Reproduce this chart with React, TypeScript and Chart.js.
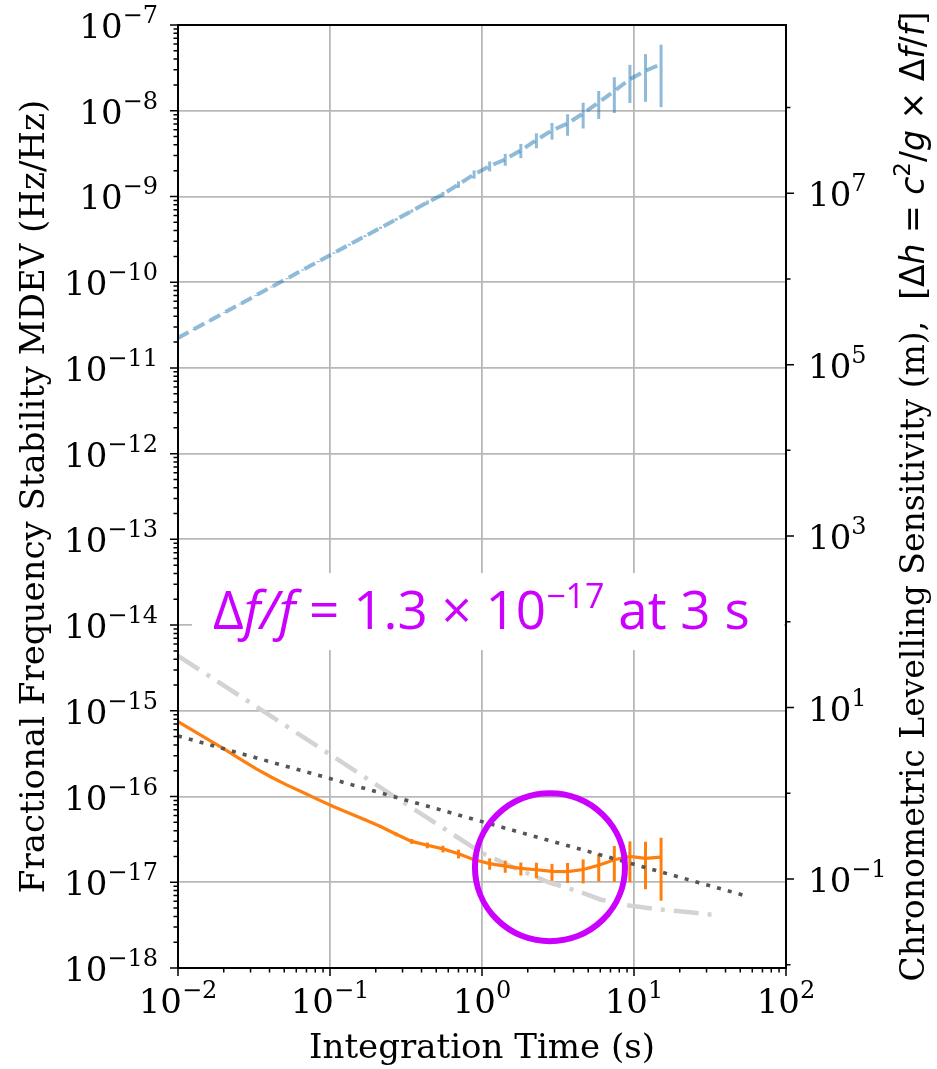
import React, { useEffect, useRef } from "react";
import { Chart, registerables } from "chart.js";

Chart.register(...registerables);

// ---- data ----
const TAU = [
  0.01, 0.01266, 0.01603, 0.0203, 0.0257, 0.03255, 0.04121, 0.05219, 0.06609, 0.08369,
  0.106, 0.1342, 0.1699, 0.2152, 0.2724, 0.345, 0.4369, 0.5532, 0.7005, 0.887,
  1.123, 1.422, 1.801, 2.28, 2.887, 3.656, 4.629, 5.861, 7.423, 9.399, 11.9, 15.07,
];
const BLUE_MDEV = [
  2.24e-11, 2.81e-11, 3.53e-11, 4.44e-11, 5.57e-11, 7.0e-11, 8.8e-11, 1.1e-10, 1.39e-10, 1.74e-10,
  2.19e-10, 2.74e-10, 3.44e-10, 4.31e-10, 5.4e-10, 6.76e-10, 8.5e-10, 1.06e-9, 1.38e-9, 1.81e-9,
  2.26e-9, 2.71e-9, 3.45e-9, 4.55e-9, 5.9e-9, 7.1e-9, 9.3e-9, 1.25e-8, 1.7e-8, 2.33e-8, 2.92e-8, 3.5e-8,
];
const BLUE_ERR = [
  2e-13, 3e-13, 4e-13, 5e-13, 7e-13, 9e-13, 1.2e-12, 1.6e-12, 2.2e-12, 3e-12,
  4e-12, 6e-12, 8e-12, 1.2e-11, 1.8e-11, 2.8e-11, 4.5e-11, 7e-11, 1.2e-10, 2e-10,
  3e-10, 4.3e-10, 6.5e-10, 9e-10, 1.3e-9, 2e-9, 3.1e-9, 4.5e-9, 7.6e-9, 1.1e-8, 1.65e-8, 2.4e-8,
];
const ORANGE_MDEV = [
  7.5e-16, 5.83e-16, 4.55e-16, 3.55e-16, 2.74e-16, 2.12e-16, 1.68e-16, 1.36e-16, 1.12e-16, 9.2e-17,
  7.6e-17, 6.4e-17, 5.35e-17, 4.47e-17, 3.63e-17, 3.0e-17, 2.7e-17, 2.45e-17, 2.15e-17, 1.83e-17,
  1.65e-17, 1.54e-17, 1.45e-17, 1.4e-17, 1.34e-17, 1.33e-17, 1.41e-17, 1.58e-17, 1.83e-17, 2.0e-17, 1.9e-17, 1.96e-17,
];
const ORANGE_ERR = [
  5e-18, 4e-18, 3.5e-18, 3e-18, 2.5e-18, 2e-18, 1.8e-18, 1.6e-18, 1.5e-18, 1.4e-18,
  1.4e-18, 1.5e-18, 1.6e-18, 1.7e-18, 1.8e-18, 2.0e-18, 2.1e-18, 2.2e-18, 2.5e-18, 2.6e-18,
  2.5e-18, 2.5e-18, 2.5e-18, 2.9e-18, 3.0e-18, 3.5e-18, 4.4e-18, 5.6e-18, 8.2e-18, 1.0e-17, 1.07e-17, 1.35e-17,
];
const MODEL_TAU = [0.01, 0.0333, 0.1, 0.25, 0.43, 1.0, 1.67, 2.75, 4.35, 6.0, 8.9, 13.5, 22.4, 36.3];
const MODEL_MDEV = [
  4.37e-15, 1.1e-15, 3.1e-16, 1.07e-16, 5.75e-17, 2.19e-17, 1.45e-17, 1.0e-17, 7.8e-18, 6.3e-18,
  5.4e-18, 4.9e-18, 4.5e-18, 4.1e-18,
];
const WHITE_TAU = [0.01, 0.1, 1, 10, 55];
const WHITE_MDEV = [5.1e-16, 1.62e-16, 5.1e-17, 1.62e-17, 6.9e-18];

const X_DECADES = [-2, -1, 0, 1, 2];
const Y_DECADES = [-18, -17, -16, -15, -14, -13, -12, -11, -10, -9, -8, -7];
const RIGHT_MAJOR = [-1, 1, 3, 5, 7];
const RIGHT_MINOR = [-2, 0, 2, 4, 6, 8];
const C2_OVER_G = 9.16e15;

const ANNOT_TAU = 2.8;
const ANNOT_VALUE = 1.5e-17;

const W = 937;
const H = 1069;
const SERIF = '"DejaVu Serif", serif';
const MATH = '"DejaVu Sans", sans-serif';
const CALLOUT = '"Open Sans", sans-serif';
const MAGENTA = "#cc00ff";

type Seg = { t: string; font: string; dy?: number };

function segWidth(ctx: CanvasRenderingContext2D, segs: Seg[]) {
  let w = 0;
  for (const s of segs) {
    ctx.font = s.font;
    w += ctx.measureText(s.t).width;
  }
  return w;
}

function drawSegs(ctx: CanvasRenderingContext2D, segs: Seg[], x: number, y: number, align: string) {
  const total = segWidth(ctx, segs);
  let cx = align === "right" ? x - total : align === "center" ? x - total / 2 : x;
  ctx.textAlign = "left";
  ctx.textBaseline = "alphabetic";
  for (const s of segs) {
    ctx.font = s.font;
    ctx.fillText(s.t, cx, y + (s.dy || 0));
    cx += ctx.measureText(s.t).width;
  }
}

function powSegs(exp: number): Seg[] {
  const sup = exp < 0 ? "\u2212" + Math.abs(exp) : String(exp);
  return [
    { t: "10", font: `34px ${SERIF}` },
    { t: sup, font: `24px ${SERIF}`, dy: -15 },
  ];
}

const decoPlugin = {
  id: "deco",
  afterDatasetDraw(chart: any, args: any) {
    const ds = chart.data.datasets[args.index];
    if (!ds.errs) return;
    const { ctx, chartArea } = chart;
    const xs = chart.scales.x;
    const ys = chart.scales.y;
    ctx.save();
    ctx.beginPath();
    ctx.rect(chartArea.left, chartArea.top, chartArea.right - chartArea.left, chartArea.bottom - chartArea.top);
    ctx.clip();
    ctx.strokeStyle = ds.borderColor;
    ctx.lineWidth = ds.errWidth;
    ctx.setLineDash([]);
    ds.data.forEach((p: any, i: number) => {
      const e = ds.errs[i];
      const px = xs.getPixelForValue(p.x);
      const top = ys.getPixelForValue(p.y + e);
      const bot = ys.getPixelForValue(Math.max(p.y - e, 1e-30));
      ctx.beginPath();
      ctx.moveTo(px, top);
      ctx.lineTo(px, bot);
      ctx.stroke();
    });
    ctx.restore();
  },
  afterDraw(chart: any) {
    const { ctx, chartArea } = chart;
    const { left, right, top, bottom } = chartArea;
    const xs = chart.scales.x;
    const ys = chart.scales.y;
    ctx.save();

    // white text box of the callout
    const yBox = ys.getPixelForValue(1e-14);
    ctx.fillStyle = "#ffffff";
    ctx.fillRect(left + 14, yBox - 52, right - left - 16, 77);

    // callout text
    ctx.fillStyle = MAGENTA;
    const big = `53px ${CALLOUT}`;
    const bigIt = `italic 53px ${CALLOUT}`;
    drawSegs(
      ctx,
      [
        { t: "\u0394", font: big },
        { t: "f/f", font: bigIt },
        { t: " = 1.3 \u00d7 10", font: big },
        { t: "\u221217", font: `34px ${CALLOUT}`, dy: -21 },
        { t: " at 3 s", font: big },
      ],
      left + 35,
      yBox + 4,
      "left"
    );

    // circle
    const cx = xs.getPixelForValue(ANNOT_TAU);
    const cy = ys.getPixelForValue(ANNOT_VALUE);
    ctx.strokeStyle = MAGENTA;
    ctx.lineWidth = 6;
    ctx.beginPath();
    ctx.ellipse(cx, cy, 75, 74, 0, 0, Math.PI * 2);
    ctx.stroke();

    // frame
    ctx.strokeStyle = "#000";
    ctx.lineWidth = 2;
    ctx.strokeRect(left, top, right - left, bottom - top);

    // ticks
    ctx.lineWidth = 1.5;
    ctx.beginPath();
    for (const e of Y_DECADES) {
      const y = ys.getPixelForValue(Math.pow(10, e));
      ctx.moveTo(left, y);
      ctx.lineTo(left - 8, y);
      if (e < -7) {
        for (let m = 2; m <= 9; m++) {
          const ym = ys.getPixelForValue(m * Math.pow(10, e));
          ctx.moveTo(left, ym);
          ctx.lineTo(left - 4.5, ym);
        }
      }
    }
    for (const e of X_DECADES) {
      const x = xs.getPixelForValue(Math.pow(10, e));
      ctx.moveTo(x, bottom);
      ctx.lineTo(x, bottom + 8);
      if (e < 2) {
        for (let m = 2; m <= 9; m++) {
          const xm = xs.getPixelForValue(m * Math.pow(10, e));
          ctx.moveTo(xm, bottom);
          ctx.lineTo(xm, bottom + 4.5);
        }
      }
    }
    for (const e of RIGHT_MAJOR) {
      const y = ys.getPixelForValue(Math.pow(10, e) / C2_OVER_G);
      ctx.moveTo(right, y);
      ctx.lineTo(right + 8, y);
    }
    for (const e of RIGHT_MINOR) {
      const y = ys.getPixelForValue(Math.pow(10, e) / C2_OVER_G);
      ctx.moveTo(right, y);
      ctx.lineTo(right + 4.5, y);
    }
    ctx.stroke();

    // tick labels
    ctx.fillStyle = "#000";
    for (const e of Y_DECADES) {
      const y = ys.getPixelForValue(Math.pow(10, e));
      drawSegs(ctx, powSegs(e), left - 20, y + 13, "right");
    }
    for (const e of X_DECADES) {
      const x = xs.getPixelForValue(Math.pow(10, e));
      drawSegs(ctx, powSegs(e), x, bottom + 45, "center");
    }
    for (const e of RIGHT_MAJOR) {
      const y = ys.getPixelForValue(Math.pow(10, e) / C2_OVER_G);
      drawSegs(ctx, powSegs(e), right + 22, y + 13, "left");
    }

    // axis titles
    ctx.font = `34px ${SERIF}`;
    ctx.textAlign = "center";
    ctx.textBaseline = "alphabetic";
    ctx.fillText("Integration Time (s)", (left + right) / 2, bottom + 90);

    ctx.save();
    ctx.translate(44, (top + bottom) / 2);
    ctx.rotate(-Math.PI / 2);
    ctx.fillText("Fractional Frequency Stability MDEV (Hz/Hz)", 0, 0);
    ctx.restore();

    ctx.save();
    ctx.translate(924, (top + bottom) / 2);
    ctx.rotate(-Math.PI / 2);
    const f = `33px ${SERIF}`;
    const m = `33px ${MATH}`;
    const mi = `oblique 33px ${MATH}`;
    drawSegs(
      ctx,
      [
        { t: "Chronometric Levelling Sensitivity (m),  [", font: f },
        { t: "\u0394", font: m },
        { t: "h", font: mi },
        { t: " = ", font: m },
        { t: "c", font: mi },
        { t: "2", font: `23px ${MATH}`, dy: -14 },
        { t: "/", font: m },
        { t: "g", font: mi },
        { t: " \u00d7 ", font: m },
        { t: "\u0394", font: m },
        { t: "f", font: mi },
        { t: "/", font: m },
        { t: "f", font: mi },
        { t: "]", font: f },
      ],
      0,
      0,
      "center"
    );
    ctx.restore();

    ctx.restore();
  },
};

function pts(xs: number[], ys: number[]) {
  return xs.map((x, i) => ({ x, y: ys[i] }));
}

export default function App() {
  const ref = useRef<HTMLCanvasElement>(null);
  useEffect(() => {
    const grid = { color: "#b8b8b8", lineWidth: 1.8, drawTicks: false };
    const chart = new Chart(ref.current as HTMLCanvasElement, {
      type: "scatter",
      data: {
        datasets: [
          {
            label: "white FM",
            data: pts(WHITE_TAU, WHITE_MDEV),
            showLine: true,
            borderColor: "#555555",
            borderWidth: 3.6,
            borderDash: [4, 7.2],
            pointRadius: 0,
            order: 0,
          },
          {
            label: "orange",
            data: pts(TAU, ORANGE_MDEV),
            showLine: true,
            borderColor: "#ff7f0e",
            borderWidth: 3.2,
            pointRadius: 0,
            order: 1,
            errs: ORANGE_ERR,
            errWidth: 3,
          } as any,
          {
            label: "blue",
            data: pts(TAU, BLUE_MDEV),
            showLine: true,
            borderColor: "rgba(31,119,180,0.5)",
            borderWidth: 4,
            borderDash: [12, 6],
            pointRadius: 0,
            order: 2,
            errs: BLUE_ERR,
            errWidth: 3,
          } as any,
          {
            label: "model",
            data: pts(MODEL_TAU, MODEL_MDEV),
            showLine: true,
            borderColor: "#d3d3d3",
            borderWidth: 4.5,
            borderDash: [25, 9, 4, 9],
            pointRadius: 0,
            order: 3,
          },
        ],
      },
      options: {
        responsive: false,
        maintainAspectRatio: false,
        animation: false,
        devicePixelRatio: 1,
        layout: { padding: { left: 0, right: 151, top: 25, bottom: 0 } },
        plugins: { legend: { display: false }, tooltip: { enabled: false } },
        scales: {
          x: {
            type: "logarithmic",
            position: "bottom",
            min: 1e-2,
            max: 1e2,
            ticks: { display: false },
            grid,
            border: { display: false },
            afterBuildTicks: (s: any) => {
              s.ticks = X_DECADES.map((e) => ({ value: Math.pow(10, e) }));
            },
            afterFit: (s: any) => {
              s.height = 101;
            },
          },
          y: {
            type: "logarithmic",
            position: "left",
            min: 1e-18,
            max: 1e-7,
            ticks: { display: false },
            grid,
            border: { display: false },
            afterBuildTicks: (s: any) => {
              s.ticks = Y_DECADES.map((e) => ({ value: Math.pow(10, e) }));
            },
            afterFit: (s: any) => {
              s.width = 178;
            },
          },
        },
      } as any,
      plugins: [decoPlugin],
    });
    return () => chart.destroy();
  }, []);
  return (
    <div style={{ position: "absolute", left: 0, top: 0, width: W, height: H, background: "#fff" }}>
      <canvas ref={ref} width={W} height={H} style={{ display: "block", width: W, height: H }} />
    </div>
  );
}
